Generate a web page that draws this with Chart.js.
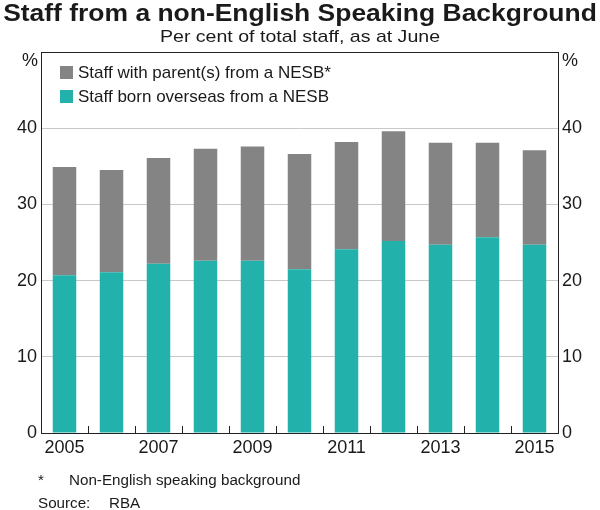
<!DOCTYPE html>
<html>
<head>
<meta charset="utf-8">
<script src="https://cdn.jsdelivr.net/npm/chart.js@4"></script>
<style>
  body { margin: 0; background: #fff; font-family: Arial, "Liberation Sans", sans-serif; color: #1a1a1a; }
  #wrap { position: relative; width: 600px; height: 510px; }
  canvas { position: absolute; left: 0; top: 0; }
  .txt { position: absolute; white-space: nowrap; }
  #title { left: 0; width: 600px; top: 0px; text-align: center; font-weight: bold; font-size: 23px; transform: scaleX(1.15); }
  #subtitle { left: 0; width: 600px; top: 27px; text-align: center; font-size: 17px; transform: scaleX(1.15); }
  .pct { top: 50px; font-size: 18px; }
  .leg { left: 60px; font-size: 17px; }
  .leg span { display: inline-block; width: 13px; height: 13px; margin-right: 5px; vertical-align: -1px; }
  .foot { font-size: 15.2px; }
</style>
</head>
<body>
<div id="wrap">
  <canvas id="staffChart" width="600" height="510"></canvas>
  <div class="txt" id="title">Staff from a non-English Speaking Background</div>
  <div class="txt" id="subtitle">Per cent of total staff, as at June</div>
  <div class="txt pct" style="left:22px">%</div>
  <div class="txt pct" style="left:562px">%</div>
  <div class="txt leg" style="top:63px"><span style="background:#848484"></span>Staff with parent(s) from a NESB*</div>
  <div class="txt leg" style="top:87px"><span style="background:#22b2ab"></span>Staff born overseas from a NESB</div>
  <div class="txt foot" style="left:38px;top:471px">*</div>
  <div class="txt foot" style="left:69px;top:471px">Non-English speaking background</div>
  <div class="txt foot" style="left:38px;top:494px">Source:</div>
  <div class="txt foot" style="left:109px;top:494px">RBA</div>
</div>
<script>
const years = ['2005', '2006', '2007', '2008', '2009', '2010', '2011', '2012', '2013', '2014', '2015'];
// born overseas from a NESB (bottom of stack)
const bornOverseas = [20.7, 21.1, 22.2, 22.6, 22.6, 21.5, 24.1, 25.2, 24.7, 25.7, 24.7];
// with parent(s) from a NESB (top of stack)
const parentNesb = [14.2, 13.4, 13.9, 14.7, 15.0, 15.1, 14.1, 14.4, 13.4, 12.4, 12.4];
const yTicks = [0, 10, 20, 30, 40];

// small tick marks on the x axis between the bars, pointing up into the plot
const innerTicks = {
    id: 'innerTicks',
    afterDatasetsDraw(chart) {
        const ctx = chart.ctx;
        const x = chart.scales.x;
        const bottom = chart.chartArea.bottom;
        ctx.save();
        ctx.strokeStyle = '#222';
        ctx.lineWidth = 1;
        for (let i = 0; i < years.length - 1; i++) {
            const px = Math.round((x.getPixelForValue(i) + x.getPixelForValue(i + 1)) / 2) + 0.5;
            ctx.beginPath();
            ctx.moveTo(px, bottom);
            ctx.lineTo(px, bottom - 7);
            ctx.stroke();
        }
        // frame round the plot
        const a = chart.chartArea;
        ctx.strokeRect(Math.round(a.left) + 0.5, Math.round(a.top) + 0.5, Math.round(a.right - a.left), Math.round(a.bottom - a.top));
        ctx.restore();
    }
};

const yAxisCommon = {
    min: 0,
    max: 50,
    afterBuildTicks: axis => { axis.ticks = yTicks.map(v => ({ value: v })); },
    border: { display: false },
    ticks: { color: '#1a1a1a', font: { family: 'Arial', size: 18 }, padding: 4 }
};

new Chart(document.getElementById('staffChart').getContext('2d'), {
    type: 'bar',
    data: {
        labels: years,
        datasets: [{
            label: 'Staff born overseas from a NESB',
            data: bornOverseas,
            backgroundColor: '#22b2ab'
        }, {
            label: 'Staff with parent(s) from a NESB*',
            data: parentNesb,
            backgroundColor: '#848484'
        }]
    },
    options: {
        responsive: false,
        animation: false,
        layout: { padding: { top: 52, left: 0, right: 0, bottom: 0 } },
        datasets: { bar: { categoryPercentage: 1, barPercentage: 0.5 } },
        plugins: { legend: { display: false }, tooltip: { enabled: false } },
        scales: {
            x: {
                stacked: true,
                grid: { display: false, drawTicks: false },
                border: { display: false },
                afterFit: axis => { axis.height = 77; },
                ticks: {
                    autoSkip: false,
                    maxRotation: 0,
                    color: '#1a1a1a',
                    font: { family: 'Arial', size: 18 },
                    padding: 4,
                    callback: (v, i) => (i % 2 === 0 ? years[i] : '')
                }
            },
            y: Object.assign({}, yAxisCommon, {
                stacked: true,
                position: 'left',
                afterFit: axis => { axis.width = 41; },
                grid: { color: '#c8c8c8', drawTicks: false }
            }),
            y2: Object.assign({}, yAxisCommon, {
                position: 'right',
                afterFit: axis => { axis.width = 42; },
                grid: { display: false, drawTicks: false }
            })
        }
    },
    plugins: [innerTicks]
});
</script>
</body>
</html>
